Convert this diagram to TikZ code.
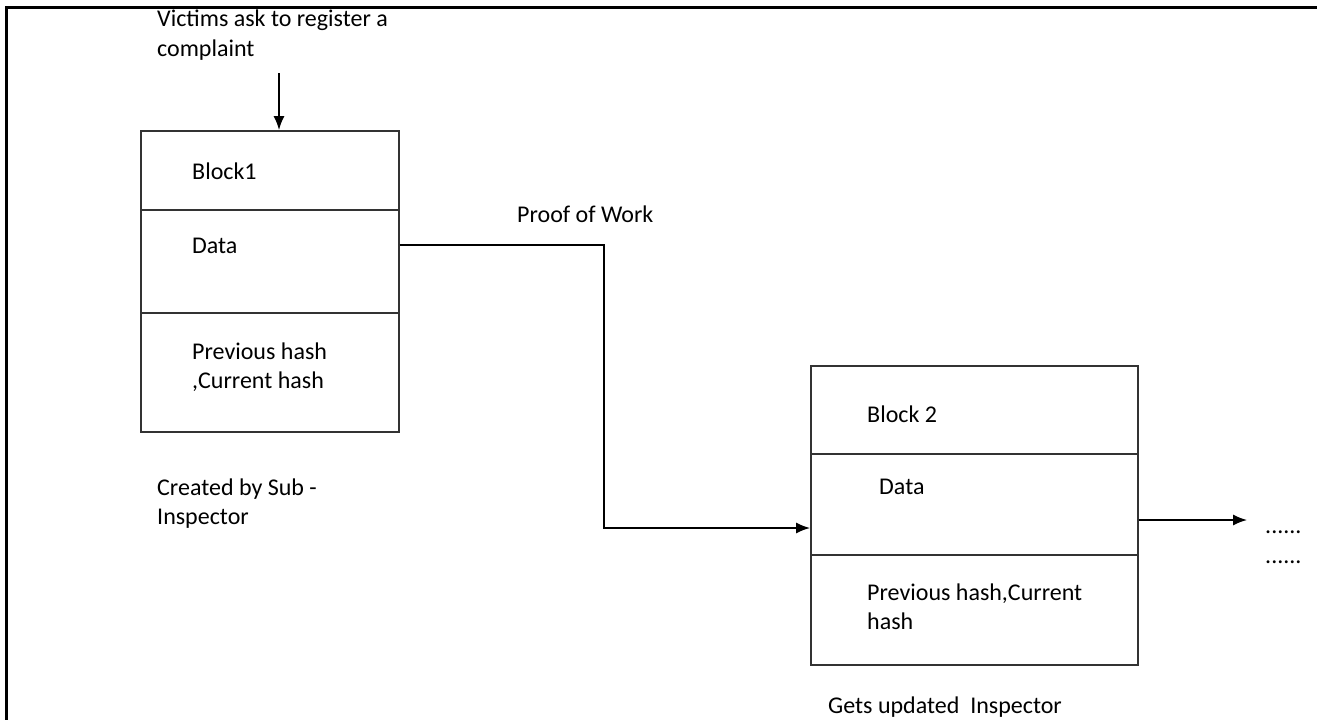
\documentclass[tikz,border=0pt]{standalone}
\usepackage{fontspec}
\setmainfont{Carlito}
\usetikzlibrary{positioning,arrows.meta}

\begin{document}
\begin{tikzpicture}[x=1pt, y=-1pt,
  block/.style={draw=black!80, line width=1.6pt, anchor=north west, inner sep=0pt},
  txt/.style={anchor=base west, inner sep=0pt, align=left, font=\fontsize{24}{29}\selectfont},
  link/.style={line width=1.4pt, -{Latex[length=14pt, width=11pt]}}]

\useasboundingbox (0,0) rectangle (1317,720);

% frame
\draw[line width=3pt] (6,720) -- (6,7) -- (1317,7);

% block 1
\node[block, minimum width=258pt, minimum height=301pt] (block1) at (140,130) {};
\draw[draw=black!80, line width=1.6pt] (block1.west |- 0,210) -- (block1.east |- 0,210);
\draw[draw=black!80, line width=1.6pt] (block1.west |- 0,313) -- (block1.east |- 0,313);
\node[txt] (name1) at (192,179) {Block1};
\node[txt] (data1) at (192,253) {Data};
\node[txt] (hash1) at (192,388) {Previous hash\\,Current hash};

% block 2
\node[block, minimum width=327pt, minimum height=299pt] (block2) at (810,365) {};
\draw[draw=black!80, line width=1.6pt] (block2.west |- 0,454) -- (block2.east |- 0,454);
\draw[draw=black!80, line width=1.6pt] (block2.west |- 0,555) -- (block2.east |- 0,555);
\node[txt] (name2) at (867,422) {Block 2};
\node[txt] (data2) at (879,494) {Data};
\node[txt] (hash2) at (867,629) {Previous hash,Current\\hash};

% labels
\node[txt] (victims) at (157,56) {Victims ask to register a\\complaint};
\node[txt] (pow) at (517,222) {Proof of Work};
\node[txt] (subinsp) at (157,524) {Created by Sub -\\Inspector};
\node[txt] (insp) at (828,713) {Gets updated~ Inspector};
\node[txt] (dots1) at (1265,533) {......};
\node[txt] (dots2) at (1265,563) {......};

% connectors
\coordinate (start) at (279,73);
\coordinate (turn) at (604,245);
\coordinate (in2) at (810,528);
\coordinate (next) at (1247,520);
\draw[link] (start) -- (start |- block1.north);
\draw[link] (block1.east |- turn) -- (turn) |- (in2);
\draw[link] (block2.east |- next) -- (next);

\end{tikzpicture}
\end{document}
